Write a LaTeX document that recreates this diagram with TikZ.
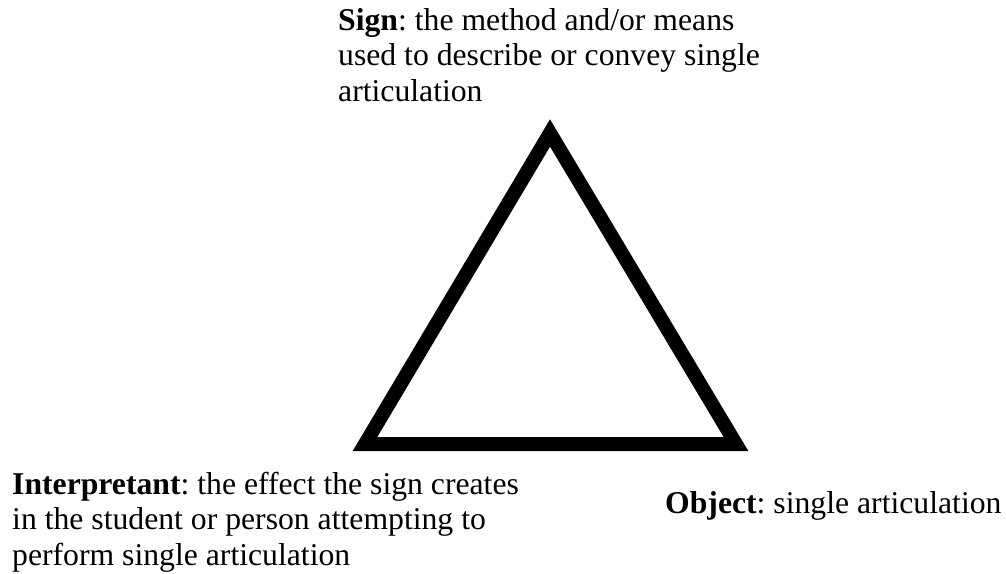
\documentclass[tikz,border=0pt]{standalone}
\usepackage{fontspec}
\setmainfont{Liberation Serif}
\usetikzlibrary{positioning}
\frenchspacing

\begin{document}
\begin{tikzpicture}[x=1pt, y=-1pt]
\def\tw{14}

\useasboundingbox (0,0) rectangle (1006,573);

\coordinate (S) at (550,133);
\coordinate (I) at (365,444);
\coordinate (O) at (736,444);

\tikzset{lbl/.style={anchor=base west, align=left, inner sep=0pt, font=\fontsize{31.7}{35.5}\selectfont}}

\draw[line width=\tw, miter limit=10] (S) -- (I) -- (O) -- cycle;

% base anchor sits on the last line
\node[lbl] (sign) at (338,101) {\textbf{Sign}: the method and/or means\\used to describe or convey single\\articulation};
\node[lbl] (interp) at (12,565) {\textbf{Interpretant}: the effect the sign creates\\in the student or person attempting to\\perform single articulation};
\node[lbl] (obj) at (665,513) {\textbf{Object}: single articulation};
\end{tikzpicture}
\end{document}
